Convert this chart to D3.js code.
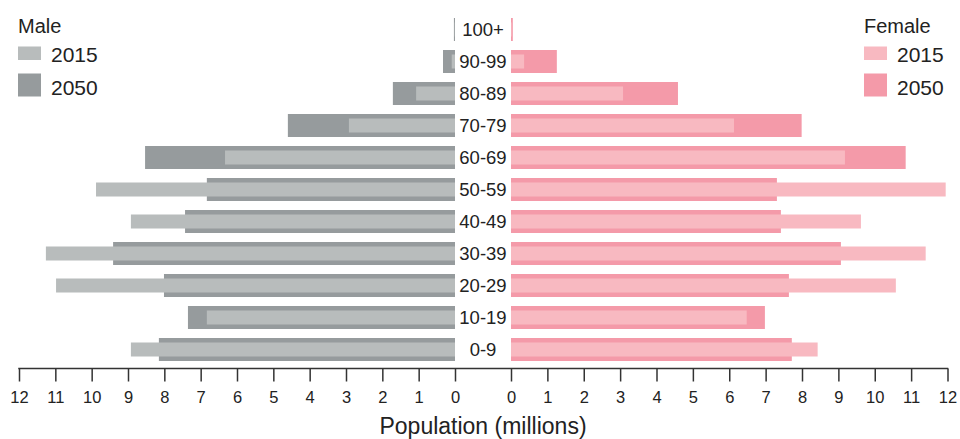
<!DOCTYPE html>
<html>
<head>
<meta charset="utf-8">
<script src="https://cdn.jsdelivr.net/npm/d3@7"></script>
<style>
  body { margin: 0; background: #fff; }
  svg { display: block; font-family: "Liberation Sans", Arial, sans-serif; }
</style>
</head>
<body>
<svg id="chart" width="960" height="439"></svg>
<script>
const ageGroups = ["100+", "90-99", "80-89", "70-79", "60-69", "50-59", "40-49", "30-39", "20-29", "10-19", "0-9"];
const male2015   = [0.01, 0.09, 1.07, 2.92, 6.33, 9.88, 8.92, 11.26, 10.98, 6.83, 8.92];
const male2050   = [0.03, 0.33, 1.71, 4.60, 8.53, 6.83, 7.43, 9.41, 8.01, 7.35, 8.15];
const female2015 = [0.02, 0.36, 3.08, 6.13, 9.18, 11.95, 9.62, 11.40, 10.58, 6.48, 8.43];
const female2050 = [0.05, 1.26, 4.59, 7.99, 10.85, 7.31, 7.42, 9.07, 7.64, 6.98, 7.72];
const ticks = [0, 1, 2, 3, 4, 5, 6, 7, 8, 9, 10, 11, 12];

const colors = {
  m2015: "#b8bcbc", m2050: "#969b9d",
  f2015: "#f8b9c1", f2050: "#f49aa9",
  text: "#222"
};

const svg = d3.select("#chart");

const y = d3.scaleBand().domain(ageGroups).range([13.5, 365.5]).padding(0);
const xM = d3.scaleLinear().domain([0, 12]).range([455, 19]);
const xF = d3.scaleLinear().domain([0, 12]).range([511, 947.5]);

const bigH = 23, smallH = 14;
const cy = d => y(d) + y.bandwidth() / 2;

function drawBars(values, scale, side, h, color) {
  svg.append("g").selectAll("rect").data(ageGroups).join("rect")
    .attr("x", (d, i) => side === "m" ? scale(values[i]) : scale(0))
    .attr("width", (d, i) => Math.abs(scale(values[i]) - scale(0)))
    .attr("y", d => cy(d) - h / 2)
    .attr("height", h)
    .attr("fill", color);
}
drawBars(male2050, xM, "m", bigH, colors.m2050);
drawBars(male2015, xM, "m", smallH, colors.m2015);
drawBars(female2050, xF, "f", bigH, colors.f2050);
drawBars(female2015, xF, "f", smallH, colors.f2015);

// age labels
svg.append("g").selectAll("text").data(ageGroups).join("text")
  .attr("x", 483).attr("y", d => cy(d))
  .attr("dy", "0.36em")
  .attr("text-anchor", "middle")
  .attr("font-size", 18.5)
  .attr("fill", colors.text)
  .text(d => d);

// axes
const axisY = 368.5;
function drawAxis(scale) {
  const g = svg.append("g").attr("transform", `translate(0,${axisY})`)
    .call(d3.axisBottom(scale).tickValues(ticks).tickSize(13).tickSizeOuter(0).tickPadding(10));
  g.select(".domain").remove();
  g.selectAll(".tick line").attr("stroke", "#333").attr("stroke-width", 1.5);
  g.selectAll(".tick text").attr("font-size", 16.5).attr("fill", colors.text)
    .attr("font-family", "Liberation Sans, Arial, sans-serif");
}
drawAxis(xM);
drawAxis(xF);
svg.append("line")
  .attr("x1", xM(12) - 0.75).attr("x2", xF(12) + 0.75)
  .attr("y1", axisY).attr("y2", axisY)
  .attr("stroke", "#333").attr("stroke-width", 1.5);

svg.append("text")
  .attr("x", 483).attr("y", 434)
  .attr("text-anchor", "middle")
  .attr("font-size", 23)
  .attr("fill", colors.text)
  .text("Population (millions)");

// legends
function legend(x, title, c1, c2) {
  const g = svg.append("g");
  g.append("text").attr("x", x).attr("y", 33).attr("font-size", 20).attr("fill", colors.text).text(title);
  g.append("rect").attr("x", x).attr("y", 46.5).attr("width", 23).attr("height", 13.5).attr("fill", c1);
  g.append("text").attr("x", x + 33).attr("y", 62).attr("font-size", 21).attr("fill", colors.text).text("2015");
  g.append("rect").attr("x", x).attr("y", 73.5).attr("width", 23).attr("height", 23).attr("fill", c2);
  g.append("text").attr("x", x + 33).attr("y", 95).attr("font-size", 21).attr("fill", colors.text).text("2050");
}
legend(18, "Male", colors.m2015, colors.m2050);
legend(864, "Female", colors.f2015, colors.f2050);
</script>
</body>
</html>
